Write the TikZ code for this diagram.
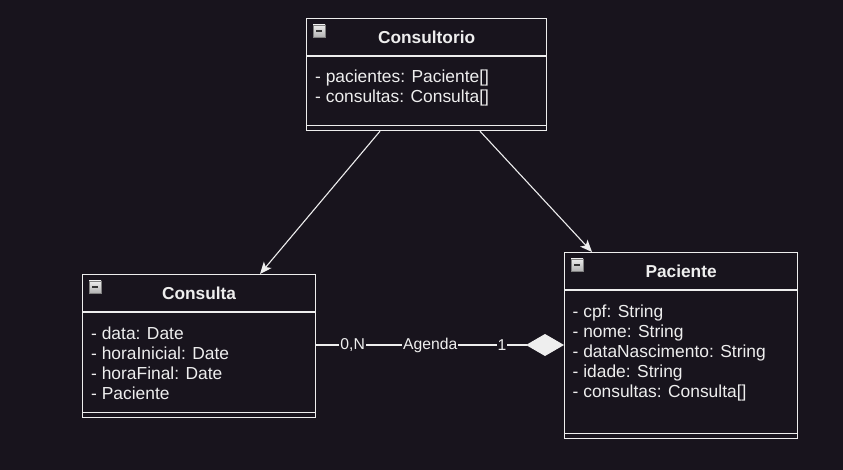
\documentclass[tikz,border=0pt]{standalone}
\usepackage{fontspec}
\setmainfont{Liberation Sans}
\usetikzlibrary{arrows.meta,positioning}

\definecolor{bgdark}{RGB}{24,20,29}
\definecolor{umlline}{RGB}{238,238,238}

\tikzset{
  classbox/.style={draw=umlline, line width=1.2pt, anchor=north west, inner sep=0pt},
  classtitle/.style={text=umlline, anchor=base, font=\bfseries\fontsize{17.3}{20}\selectfont},
  classattrs/.style={text=umlline, anchor=north west, align=left, inner sep=0pt,
    font=\fontsize{17.4}{20}\selectfont},
  classline/.style={draw=umlline, line width=1.2pt},
  assoclabel/.style={text=umlline, fill=bgdark, inner sep=1pt, font=\fontsize{15.7}{18}\selectfont},
  navarrow/.style={draw=umlline, line width=1.1pt, -{Stealth[length=12pt,width=10pt,inset=3pt]}},
}

\begin{document}
\begin{tikzpicture}[x=1pt,y=-1pt]
  \fill[bgdark] (0,0) rectangle (843,470);
  \useasboundingbox (0,0) rectangle (843,470);

  \node[classbox, minimum width=240pt, minimum height=112pt] (consultorio) at (306,18) {};
  \node[classbox, minimum width=233pt, minimum height=143pt] (consulta) at (82,274) {};
  \node[classbox, minimum width=233pt, minimum height=186pt] (paciente) at (564,252) {};

  \foreach \c in {consultorio,consulta,paciente} {
    \draw[classline] ([yshift=-38pt]\c.north west) -- ([yshift=-38pt]\c.north east);
    \draw[classline] ([yshift=6pt]\c.south west) -- ([yshift=6pt]\c.south east);
    \draw[draw=gray, top color=white!85!gray, bottom color=gray!60, line width=0.6pt]
      ([shift={(7,7)}]\c.north west) rectangle ++(12,12);
    \draw[black!80, line width=2pt] ([shift={(10,13)}]\c.north west) -- ++(6,0);
  }

  \node[classtitle] (consultoriotitle) at ([yshift=-25.5pt]consultorio.north) {Consultorio};
  \node[classtitle] (consultatitle) at ([yshift=-26pt]consulta.north) {Consulta};
  \node[classtitle] (pacientetitle) at ([yshift=-26pt]paciente.north) {Paciente};

  \node[classattrs] (consultorioattrs) at (315,70) {- pacientes: Paciente[]\\- consultas: Consulta[]};
  \node[classattrs] (consultaattrs) at (91,327) {- data: Date\\- horaInicial: Date\\- horaFinal: Date\\- Paciente};
  \node[classattrs] (pacienteattrs) at (572.5,305) {- cpf: String\\- nome: String\\- dataNascimento: String\\- idade: String\\- consultas: Consulta[]};

  \draw[navarrow] ([xshift=74pt]consultorio.south west) -- ([xshift=178pt]consulta.north west);
  \draw[navarrow] ([xshift=174pt]consultorio.south west) -- ([xshift=28pt]paciente.north west);

  \draw[classline, -{Diamond[length=38pt,width=22pt,fill=umlline]}]
    ([yshift=-71pt]consulta.north east) -- ([yshift=-93pt]paciente.north west)
    node[assoclabel, pos=0.147] (multmany) {0,N}
    node[assoclabel, pos=0.46] (agenda) {Agenda}
    node[assoclabel, pos=0.75] (multone) {1};
\end{tikzpicture}
\end{document}
